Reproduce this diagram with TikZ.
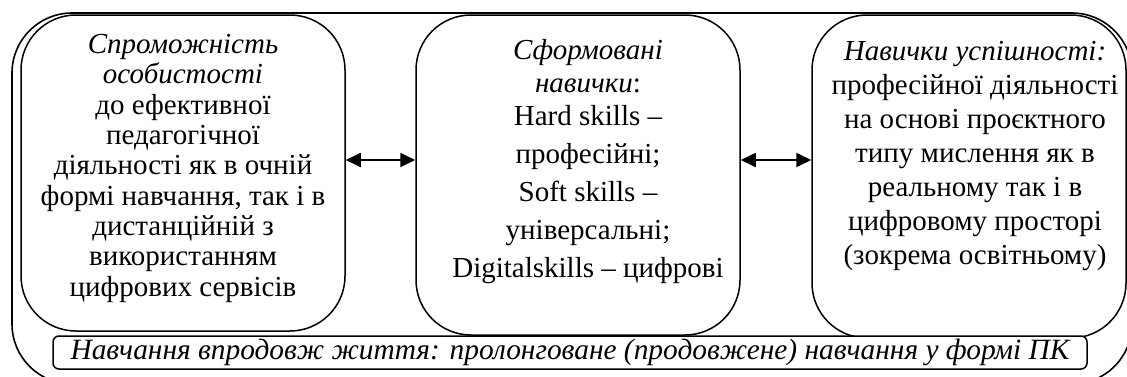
\documentclass[tikz,border=0pt]{standalone}
\usepackage{fontspec}
\setmainfont{Liberation Serif}
\usetikzlibrary{positioning, arrows.meta}

\begin{document}
\begin{tikzpicture}[x=1pt, y=-1pt,
    frame/.style={draw, line width=1.6pt, rounded corners=60pt},
    card/.style={draw, line width=1.5pt, rounded corners=55pt, fill=white},
    cardtext/.style={align=center, inner sep=0pt, font=\fontsize{29}{30.3}\selectfont},
    note/.style={draw, line width=1.5pt, rounded corners=6pt, fill=white,
      inner sep=0pt, font=\fontsize{29.4}{30}\selectfont\itshape},
    arr/.style={{Triangle[length=15pt,width=14pt]}-{Triangle[length=15pt,width=14pt]},
      line width=1.8pt}]
    \useasboundingbox (0,0) rectangle (1127,376);
    \clip (0,0) rectangle (1127,376);
    % outer frame, runs off the right and bottom edges
    \node[frame, minimum width=1120pt, minimum height=371pt] (life) at (572,198.5) {};
    % three blocks
    \node[card, minimum width=324pt, minimum height=316pt] (ability) at (183,173) {};
    \node[card, minimum width=324pt, minimum height=320pt] (skills) at (578,175) {};
    \node[card, minimum width=314pt, minimum height=323pt] (success) at (969,176.5) {};
    \node[cardtext, below=20pt of ability.north] (abilitytxt)
      {\textit{Спроможність}\\ \textit{особистості}\\ до ефективної\\ педагогічної\\
       діяльності як в очній\\ формі навчання, так і в\\ дистанційній з\\
       використанням\\ цифрових сервісів};
    \node[cardtext, font=\fontsize{29}{38}\selectfont, below=25pt of skills.north,
      xshift=10pt] (skillstxt)
      {\textit{Сформовані}\\[-5pt] \textit{навички}:\\[-5pt] Hard skills –\\ професійні;\\
       Soft skills –\\ універсальні;\\ Digitalskills – цифрові};
    \node[cardtext, font=\fontsize{29}{34}\selectfont, below=27pt of success.north,
      xshift=6pt] (successtxt)
      {\textit{Навички успішності:}\\ професійної діяльності\\ на основі проєктного\\
       типу мислення як в\\ реальному так і в\\ цифровому просторі\\ (зокрема освітньому)};
    \draw[arr] ([yshift=13pt]ability.east) -- ([yshift=13pt]ability.east -| skills.west);
    \draw[arr] ([yshift=15pt]skills.east) -- ([yshift=15pt]skills.east -| success.west);
    % bottom strip
    \node[note, minimum width=1034pt, minimum height=33pt] (lifelong) at (570,352.5)
      {Навчання впродовж життя: пролонговане (продовжене) навчання у формі ПК};
\end{tikzpicture}
\end{document}
